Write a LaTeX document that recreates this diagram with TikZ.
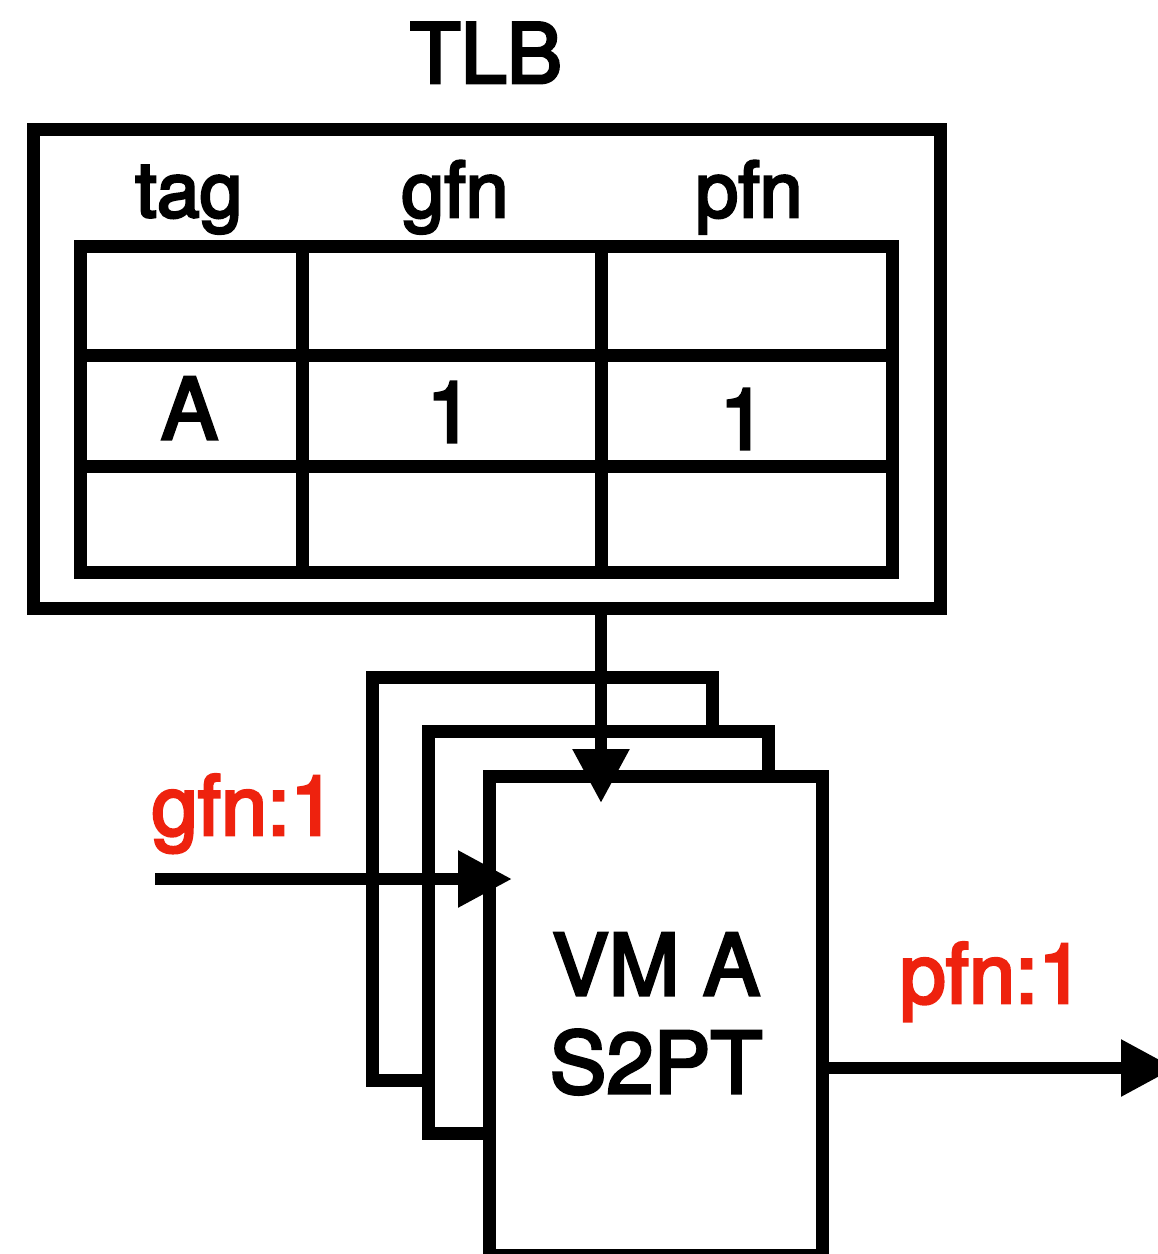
\documentclass[tikz,border=0pt]{standalone}
\usepackage{fontspec}
\setmainfont{TeX Gyre Heros}[FakeBold=3.5]
\usetikzlibrary{arrows.meta}
\definecolor{labelred}{RGB}{238,34,14}
\tikzset{
  heavy/.style={line width=13pt, line join=miter},
  flow/.style={line width=12pt, -{Triangle[length=54pt,width=54pt]}},
  txt/.style={inner sep=0pt, anchor=base},
  title/.style={txt, font=\fontsize{83}{96}\selectfont},
  colhead/.style={txt, font=\fontsize{77}{90}\selectfont},
  cell/.style={txt, font=\fontsize{85}{98}\selectfont},
  redlabel/.style={txt, text=labelred, font=\fontsize{83}{96}\selectfont},
  boxfont/.style={txt, font=\fontsize{85}{98}\selectfont},
}
\begin{document}
\begin{tikzpicture}[x=1pt, y=-1pt]
\useasboundingbox (0,0) rectangle (1158,1254);

% TLB frame and its table
\node[heavy, draw, minimum width=907pt, minimum height=479pt, inner sep=0pt] (tlb) at (486.5,368.5) {};
\node[heavy, draw, minimum width=812pt, minimum height=326pt, inner sep=0pt] (tbl) at (486,409) {};
\node[title] (tlbname) at (486,83) {TLB};

% column and row separators
\coordinate (c1) at (302,246);
\coordinate (c2) at (601,246);
\coordinate (r1) at (80,355);
\coordinate (r2) at (80,466);
\draw[heavy] (c1) -- (c1 |- tbl.south);
\draw[heavy] (c2) -- (c2 |- tbl.south);
\draw[heavy] (r1) -- (r1 -| tbl.east);
\draw[heavy] (r2) -- (r2 -| tbl.east);

% column headers
\node[colhead] (htag) at (189,217) {tag};
\node[colhead] (hgfn) at (455,217) {gfn};
\node[colhead] (hpfn) at (749,217) {pfn};

% entry for VM A
\node[cell] (etag) at (189.5,439) {A};
\node[cell] (egfn) at (450,442) {1};
\node[cell] (epfn) at (743,449) {1};

% stacked stage-2 page tables (back ones only partly visible)
\draw[heavy] (428,1080) -- (372,1080) -- (372,677) -- (712,677) -- (712,731);
\draw[heavy] (489,1133) -- (428,1133) -- (428,731) -- (768,731) -- (768,776);
\node[heavy, draw, minimum width=333pt, minimum height=479pt, inner sep=0pt] (s2pt) at (655.5,1015.5) {};
\node[boxfont] (vmname) at (656,995) {VM A};
\node[boxfont] (ptname) at (656,1093) {S2PT};

% lookups
\coordinate (downtip) at (601,803);
\draw[flow] (c2 |- tlb.south) -- (downtip);

\coordinate (gfnin) at (155,879);
\coordinate (gfntip) at (512,879);
\draw[flow] (gfnin) -- (gfntip);
\node[redlabel] (gfnlbl) at (244,835) {gfn:1};

\coordinate (pfntip) at (1175,1068);
\draw[flow] (s2pt.east |- pfntip) -- (pfntip);
\node[redlabel] (pfnlbl) at (992,1003) {pfn:1};
\end{tikzpicture}
\end{document}
